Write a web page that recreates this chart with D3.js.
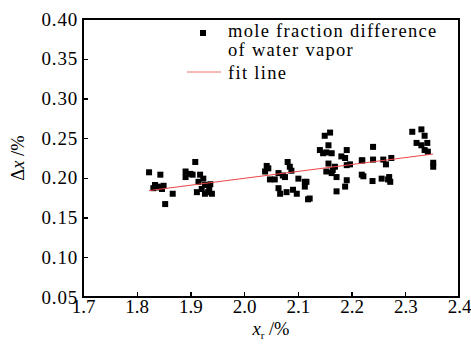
<!DOCTYPE html>
<html lang="en">
<head>
<meta charset="UTF-8" />
<title>mole fraction difference</title>
<script src="https://d3js.org/d3.v7.min.js"></script>
<style>
  body { margin: 0; background: #fff; }
  .axis path, .axis line { stroke: #000; stroke-width: 1.3; shape-rendering: crispEdges; }
  .axis text { font-family: "Liberation Serif", "Times New Roman", serif; font-size: 19px; fill: #000; }
  .y.axis text { letter-spacing: 0.8px; }
  .legend text, .title { font-family: "Liberation Serif", "Times New Roman", serif; font-size: 18.5px; fill: #000; }
  .legend text { letter-spacing: 1.3px; }
</style>
</head>
<body>
<script>
  // measured points (x_r %, delta x %)
  const xr = [
    1.823, 1.844, 1.834, 1.839, 1.831, 1.847, 1.867, 1.853, 1.842, 1.850,
    1.909, 1.891, 1.891, 1.904, 1.918, 1.924, 1.915, 1.912, 1.927, 1.937,
    1.933, 1.940, 1.927, 1.921, 1.900, 1.935,
    2.042, 2.039, 2.081, 2.085, 2.088, 2.064, 2.048, 2.057, 2.076, 2.101,
    2.113, 2.113, 2.064, 2.067, 2.079, 2.091, 2.098, 2.119, 2.045, 2.072,
    2.160, 2.150, 2.157, 2.141, 2.153, 2.163, 2.191, 2.181, 2.188, 2.157,
    2.169, 2.191, 2.153, 2.163, 2.172, 2.191, 2.188, 2.172, 2.219, 2.219,
    2.116, 2.122, 2.147, 2.197, 2.165,
    2.240, 2.220, 2.240, 2.259, 2.264, 2.274, 2.222, 2.239, 2.256, 2.270,
    2.272, 2.313, 2.330, 2.336, 2.321, 2.330, 2.341, 2.336, 2.342, 2.352,
    2.352, 2.268
  ];
  const dx = [
    0.207, 0.204, 0.191, 0.189, 0.187, 0.186, 0.180, 0.167, 0.188, 0.190,
    0.220, 0.208, 0.201, 0.204, 0.204, 0.199, 0.195, 0.182, 0.191, 0.192,
    0.182, 0.180, 0.180, 0.186, 0.205, 0.186,
    0.215, 0.208, 0.220, 0.214, 0.209, 0.206, 0.198, 0.198, 0.201, 0.199,
    0.195, 0.189, 0.187, 0.180, 0.182, 0.185, 0.180, 0.173, 0.212, 0.203,
    0.257, 0.253, 0.241, 0.235, 0.232, 0.231, 0.235, 0.227, 0.225, 0.218,
    0.214, 0.216, 0.208, 0.206, 0.201, 0.197, 0.189, 0.183, 0.222, 0.204,
    0.195, 0.174, 0.231, 0.217, 0.210,
    0.239, 0.222, 0.223, 0.223, 0.217, 0.225, 0.202, 0.196, 0.199, 0.201,
    0.195, 0.258, 0.261, 0.253, 0.244, 0.241, 0.244, 0.235, 0.233, 0.219,
    0.214, 0.198
  ];
  const fitX = [1.823, 2.352];
  const fitY = [0.184, 0.230];
  const xTicks = [1.7, 1.8, 1.9, 2.0, 2.1, 2.2, 2.3, 2.4];
  const yTicks = [0.05, 0.10, 0.15, 0.20, 0.25, 0.30, 0.35, 0.40];
  const legendLabels = ["mole fraction difference", "of water vapor", "fit line"];

  const W = 471, H = 345;
  const m = { left: 83, right: 12, top: 19, bottom: 48 };

  const svg = d3.select("body").append("svg")
    .attr("width", W).attr("height", H);

  const x = d3.scaleLinear().domain([1.7, 2.4]).range([m.left, W - m.right]);
  const y = d3.scaleLinear().domain([0.05, 0.40]).range([H - m.bottom, m.top]);

  // frame
  svg.append("rect")
    .attr("x", x(1.7)).attr("y", y(0.40))
    .attr("width", x(2.4) - x(1.7)).attr("height", y(0.05) - y(0.40))
    .attr("fill", "none").attr("stroke", "#000").attr("stroke-width", 1.3)
    .attr("shape-rendering", "crispEdges");

  svg.append("g").attr("class", "x axis")
    .attr("transform", `translate(0,${y(0.05)})`)
    .call(d3.axisBottom(x).tickValues(xTicks).tickFormat(d3.format(".1f"))
      .tickSizeInner(-5).tickSizeOuter(0).tickPadding(2));

  svg.append("g").attr("class", "y axis")
    .attr("transform", `translate(${x(1.7)},0)`)
    .call(d3.axisLeft(y).tickValues(yTicks).tickFormat(d3.format(".2f"))
      .tickSizeInner(-5).tickSizeOuter(0).tickPadding(5));

  // points
  svg.append("g").selectAll("rect")
    .data(d3.range(xr.length))
    .enter().append("rect")
    .attr("x", i => x(xr[i]) - 3)
    .attr("y", i => y(dx[i]) - 3)
    .attr("width", 6).attr("height", 6)
    .attr("fill", "#000");

  // fit line
  const line = d3.line().x(d => x(d[0])).y(d => y(d[1]));
  svg.append("path")
    .attr("d", line(d3.zip(fitX, fitY)))
    .attr("fill", "none").attr("stroke", "#ee4444").attr("stroke-width", 1);

  // legend
  const lg = svg.append("g").attr("class", "legend");
  lg.append("rect").attr("x", 200).attr("y", 30).attr("width", 6).attr("height", 6).attr("fill", "#000");
  lg.append("line").attr("x1", 187).attr("x2", 221).attr("y1", 72).attr("y2", 72)
    .attr("stroke", "#f07070").attr("stroke-width", 1);
  lg.selectAll("text").data(legendLabels).enter().append("text")
    .attr("x", 228)
    .attr("y", (d, i) => [37, 56, 79][i])
    .text(d => d);

  // axis titles
  const yt = svg.append("text").attr("class", "title")
    .attr("transform", `translate(24,${(y(0.05) + y(0.40)) / 2}) rotate(-90)`)
    .attr("text-anchor", "middle");
  yt.append("tspan").text("Δ");
  yt.append("tspan").attr("font-style", "italic").text("x");
  yt.append("tspan").text(" /%");

  const xt = svg.append("text").attr("class", "title")
    .attr("x", 271).attr("y", 335).attr("text-anchor", "middle");
  xt.append("tspan").attr("font-style", "italic").text("x");
  xt.append("tspan").attr("font-size", "11px").attr("dy", 4).text("r");
  xt.append("tspan").attr("dy", -4).text(" /%");
</script>
</body>
</html>
